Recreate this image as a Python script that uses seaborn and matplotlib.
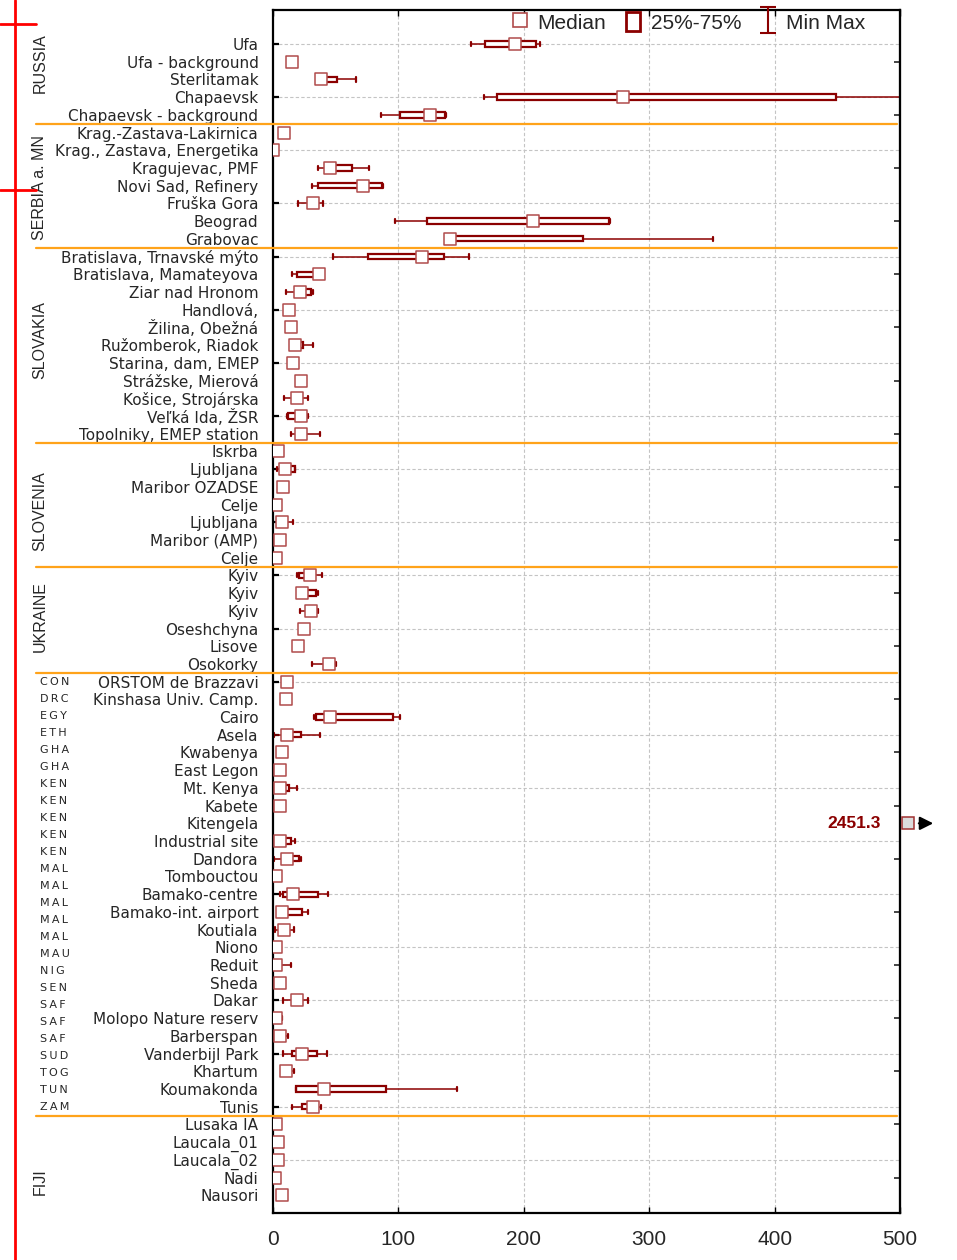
import numpy as np
import pandas as pd
import matplotlib
matplotlib.use("Agg")
import matplotlib.pyplot as plt
from matplotlib.lines import Line2D
from matplotlib.patches import Rectangle, FancyArrowPatch
from matplotlib.path import Path
from matplotlib.markers import MarkerStyle
from matplotlib.transforms import blended_transform_factory, ScaledTranslation
import seaborn as sns

# ---- sampling sites (top to bottom) ----
sites = [
    "Ufa", "Ufa - background", "Sterlitamak", "Chapaevsk", "Chapaevsk - background",
    "Krag.-Zastava-Lakirnica", "Krag., Zastava, Energetika", "Kragujevac, PMF",
    "Novi Sad, Refinery", "Fruška Gora", "Beograd", "Grabovac",
    "Bratislava, Trnavské mýto", "Bratislava, Mamateyova", "Ziar nad Hronom", "Handlová,",
    "Žilina, Obežná", "Ružomberok, Riadok", "Starina, dam, EMEP", "Strážske, Mierová",
    "Košice, Strojárska", "Veľká Ida, ŽSR", "Topolniky, EMEP station",
    "Iskrba", "Ljubljana", "Maribor OZADSE", "Celje", "Ljubljana", "Maribor (AMP)", "Celje",
    "Kyiv", "Kyiv", "Kyiv", "Oseshchyna", "Lisove", "Osokorky",
    "ORSTOM de Brazzavi", "Kinshasa Univ. Camp.", "Cairo", "Asela", "Kwabenya", "East Legon",
    "Mt. Kenya", "Kabete", "Kitengela", "Industrial site", "Dandora", "Tombouctou",
    "Bamako-centre", "Bamako-int. airport", "Koutiala", "Niono", "Reduit", "Sheda", "Dakar",
    "Molopo Nature reserv", "Barberspan", "Vanderbijl Park", "Khartum", "Koumakonda", "Tunis",
    "Lusaka IA", "Laucala_01", "Laucala_02", "Nadi", "Nausori",
]

median = [193, 15, 38.5, 279, 125,
          8.5, 0.3, 45.5, 72, 32, 207, 141,
          118.5, 37, 21.5, 13, 14.5, 17.5, 16, 22, 19, 22, 22,
          4.2, 9.8, 8.2, 2.4, 6.9, 5.6, 2.4,
          29.5, 23.4, 30.6, 24.7, 20.2, 44.5,
          11.4, 10.1, 45.5, 11.4, 6.9, 5.6, 5.6, 5.6, 2451.3, 5.6, 11.4, 2.4, 16.2, 6.9,
          8.5, 2.5, 2.4, 5.6, 18.9, 2.2, 5.6, 23.4, 10.1, 41, 32.2,
          2.6, 4.1, 4.1, 1.2, 7]
q1 = [169, 15, 37, 179, 101,
      8.5, 0.3, 42, 35.6, 30, 123, 139,
      76, 19, 19, 13, 14.5, 16, 16, 22, 17, 11.7, 21,
      4.2, 6, 8.2, 2.4, 6, 5.6, 2.4,
      21, 22, 29, 24.7, 20.2, 43,
      11.4, 10.1, 34, 8, 6.9, 5.6, 4, 5.6, 2451.3, 4, 8, 2.4, 8.2, 5,
      7, 2.5, 2, 5.6, 17, 2.2, 5.6, 14.9, 10.1, 18.6, 22.9,
      2.6, 4.1, 4.1, 1.2, 7]
q3 = [210, 15, 51, 449, 137,
      8.5, 0.3, 62.8, 86.7, 35, 268, 247,
      136.5, 35, 30.3, 13, 14.5, 24.2, 16, 22, 21, 23, 23,
      4.2, 17.3, 8.2, 2.4, 8, 5.6, 2.4,
      30, 34, 32, 24.7, 20.2, 46,
      11.4, 10.1, 95.5, 22.1, 6.9, 5.6, 12.8, 5.6, 2451.3, 14.1, 21, 2.4, 35.6, 22.9,
      10, 2.5, 3, 5.6, 20, 2.2, 5.6, 34.8, 10.1, 89.9, 33,
      2.6, 4.1, 4.1, 1.2, 7]
vmin = [158, 15, 37, 168, 86,
        8.5, 0.3, 36.2, 30.9, 19.7, 97, 139,
        47.5, 15, 10.1, 13, 14.5, 16, 16, 22, 8.5, 10.9, 14.4,
        4.2, 3, 8.2, 2.4, 5, 5.6, 2.4,
        19.1, 22, 21.8, 24.7, 20.2, 31,
        11.4, 10.1, 32.7, 1, 6.9, 5.6, 3, 5.6, 2451.3, 2, 0.5, 2.4, 5.6, 5,
        1.6, 2.5, 2, 5.6, 8.2, 2.2, 5.6, 8.2, 10.1, 18.6, 15.4,
        2.6, 4.1, 4.1, 1.2, 7]
vmax = [213, 15, 66, 510, 138,
        8.5, 0.3, 76.6, 87.5, 40.2, 269, 351,
        156, 38, 31.6, 13, 14.5, 31.6, 16, 22, 27.7, 27.7, 37.5,
        4.2, 17.8, 8.2, 2.4, 15.7, 5.6, 2.4,
        38.8, 35.9, 36.2, 24.7, 20.2, 50,
        11.4, 10.1, 101.3, 37.5, 6.9, 5.6, 18.9, 5.6, 2451.3, 17.6, 22.1, 2.4, 44.1, 28.2,
        16.8, 2.5, 14.4, 5.6, 28.2, 7.4, 11.7, 42.8, 17, 146.5, 38,
        2.6, 4.1, 4.1, 1.2, 7]

# ---- grouping ----
group_names = ["RUSSIA", "SERBIA a. MN", "SLOVAKIA", "SLOVENIA", "UKRAINE", "AFRICA", "FIJI"]
group_sizes = [5, 7, 11, 7, 6, 25, 5]
group_label_rows = [1.07, 8.13, 16.7, 26.4, 32.35, None, 64.25]
country_codes = ["CON", "DRC", "EGY", "ETH", "GHA", "GHA", "KEN", "KEN", "KEN", "KEN", "KEN",
                 "MAL", "MAL", "MAL", "MAL", "MAL", "MAU", "NIG", "SEN", "SAF", "SAF", "SAF",
                 "SUD", "TOG", "TUN", "ZAM"]

XMIN, XMAX = 0, 500
xticks = [0, 100, 200, 300, 400, 500]

DARK = "#8b0000"
MED_EDGE = "#b04c4c"
ORANGE = "#ffa31a"

sns.set_style("white")
plt.rcParams["font.family"] = ["DejaVu Sans"]

n = len(sites)
rows = np.arange(n)
df = pd.DataFrame({"site": sites, "row": rows, "median": median,
                   "q1": q1, "q3": q3, "min": vmin, "max": vmax})

fig = plt.figure(figsize=(9.57, 12.6), dpi=100)
W, H = 957, 1260
ax = fig.add_axes([273 / W, 1 - 1213 / H, 627 / W, 1203 / H])

# dashed grid
ax.vlines([100, 200, 300, 400], -3, n + 1, colors="#c4c4c4", linestyles=(0, (3, 2)), lw=0.8, zorder=0)
grid_rows = rows[rows % 3 == 0]
ax.hlines(grid_rows, XMIN, XMAX, colors="#c4c4c4", linestyles=(0, (3, 2)), lw=0.8, zorder=0)

# IQR boxes and min/max whiskers
stats = [dict(med=r["median"], q1=r["q1"], q3=r["q3"], whislo=r["min"], whishi=r["max"], fliers=[])
         for _, r in df.iterrows()]
ax.bxp(stats, positions=rows, orientation="horizontal", widths=0.3, capwidths=0.24,
       patch_artist=True, showfliers=False, manage_ticks=False,
       boxprops=dict(facecolor="white", edgecolor=DARK, linewidth=1.6),
       whiskerprops=dict(color=DARK, linewidth=1.1),
       capprops=dict(color=DARK, linewidth=1.6),
       medianprops=dict(linewidth=0))

# medians
sns.scatterplot(data=df, x="median", y="row", marker="s", s=82, color="white",
                edgecolor=MED_EDGE, linewidth=1.1, zorder=5, legend=False, ax=ax)

ax.set_xlim(XMIN, XMAX)
ax.set_ylim(n - 0.0, -1.92)
ax.set_xlabel("")
ax.set_ylabel("")

# axes and ticks
ax.set_yticks(rows)
ax.set_yticklabels(sites, fontsize=11)
ax.tick_params(axis="y", which="major", length=0, pad=10.5)
ax.yaxis.remove_overlapping_locs = False
ax.set_yticks(grid_rows, minor=True)
ax.tick_params(axis="y", which="minor", direction="in", length=4.5, width=1.6, color="black", left=True)

ax.set_xticks(xticks)
ax.set_xticklabels([str(t) for t in xticks], fontsize=15, family=["Liberation Sans", "DejaVu Sans"])
ax.tick_params(axis="x", which="major", direction="in", top=True, bottom=True,
               length=4, width=1.0, color="black", pad=12)

sec = ax.secondary_yaxis("right")
sec.set_yticks(rows[rows % 3 == 1])
sec.tick_params(direction="in", length=4.5, width=1.2, labelright=False)
sec.spines["right"].set_linewidth(1.5)

for s in ax.spines.values():
    s.set_visible(True)
    s.set_color("black")
    s.set_linewidth(1.6)

# group separators and names
blend_fig_data = blended_transform_factory(fig.transFigure, ax.transData)
bounds = np.cumsum(group_sizes)[:-1] - 0.5
for b in bounds:
    ax.plot([36 / W, 897 / W], [b, b], color=ORANGE, lw=1.6, transform=blend_fig_data,
            clip_on=False, zorder=6)
for name, yr in zip(group_names, group_label_rows):
    if yr is None:
        continue
    ax.text(40 / W, yr, name, rotation=90, ha="center", va="center", fontsize=11.5,
            transform=blend_fig_data, family=["Liberation Sans", "DejaVu Sans"])

# country codes of the African sites
africa_start = sum(group_sizes[:5])
ncode = len(country_codes)
for k, code in enumerate(country_codes):
    yr = africa_start + k * (group_sizes[5] - 1) / (ncode - 1)
    ax.text(40 / W, yr, "\u2009".join(code), ha="left", va="center", fontsize=8,
            transform=blend_fig_data)

# medians beyond the axis range: marker past the right spine, value and arrow
blend_ax_data = blended_transform_factory(ax.transAxes, ax.transData)
for i, m in enumerate(median):
    if m > XMAX:
        off = ScaledTranslation(8 / 100, 0, fig.dpi_scale_trans)
        ax.plot([1.0], [i], marker="s", ms=9, mfc="#dcdcdc", mec="#a03030", mew=1.1,
                transform=blend_ax_data + off, clip_on=False, zorder=7)
        arr_tr_a = blend_ax_data + ScaledTranslation(16 / 100, 0, fig.dpi_scale_trans)
        arr_tr_b = blend_ax_data + ScaledTranslation(36 / 100, 0, fig.dpi_scale_trans)
        x0, y0 = arr_tr_a.transform((1.0, i))
        x1, y1 = arr_tr_b.transform((1.0, i))
        fig.add_artist(FancyArrowPatch((x0, y0), (x1, y1), transform=None, arrowstyle="-|>",
                                       color="black", lw=1.5, mutation_scale=20))
        ax.text(0.9697, i, f"{m:.1f}", transform=blend_ax_data, ha="right", va="center",
                fontsize=12.5, fontweight="bold", color=DARK,
                family=["Liberation Sans", "DejaVu Sans"])

# legend
ibeam = Path([(-0.6, -1), (0.6, -1), (0, -1), (0, 1), (-0.6, 1), (0.6, 1)],
             [Path.MOVETO, Path.LINETO, Path.MOVETO, Path.LINETO, Path.MOVETO, Path.LINETO])
handles = [
    Line2D([], [], ls="", marker="s", ms=10, mfc="white", mec=MED_EDGE, mew=1.2),
    Rectangle((0, 0), 1, 1, facecolor="white", edgecolor=DARK, lw=2.0),
    Line2D([], [], ls="", marker=MarkerStyle(ibeam, fillstyle="none"), ms=19, mec=DARK, mew=1.5),
]
ax.legend(handles, ["Median", "25%-75%", "Min Max"], loc="upper right",
          bbox_to_anchor=(0.948, 1.0), ncol=3, frameon=False, borderaxespad=0.0, borderpad=0.1,
          handlelength=0.7, handleheight=1.0, handletextpad=0.5, columnspacing=0.95,
          prop=dict(family=["Liberation Sans", "DejaVu Sans"], size=15))

# red marker lines at the left edge
fig.add_artist(Line2D([15 / W, 15 / W], [0, 1], transform=fig.transFigure, color="red", lw=2))
for ypx in (24, 190):
    fig.add_artist(Line2D([0, 36 / W], [1 - ypx / H, 1 - ypx / H], transform=fig.transFigure,
                          color="red", lw=2))

fig.savefig("out.png", dpi=100)
